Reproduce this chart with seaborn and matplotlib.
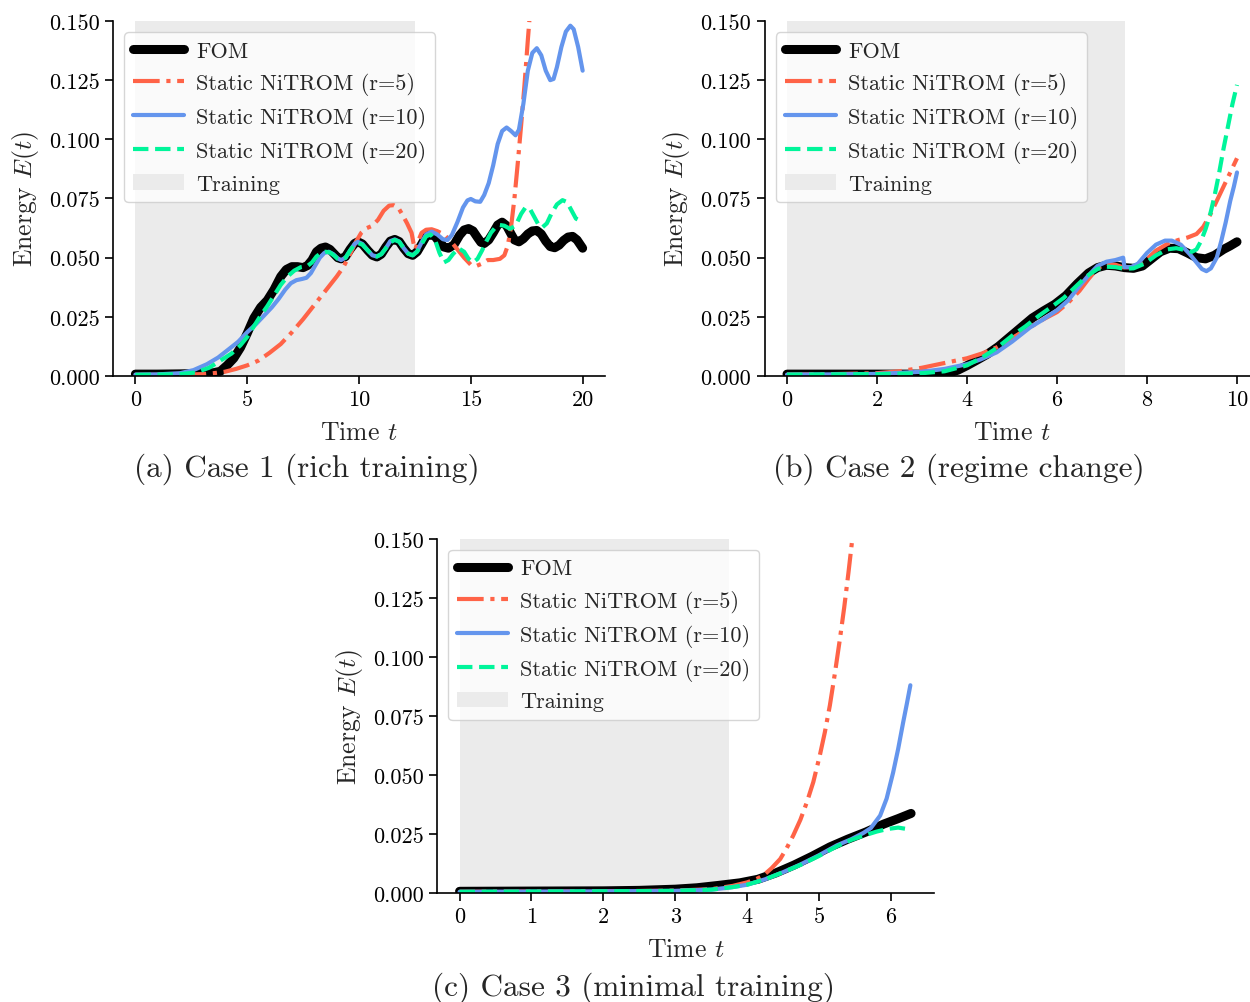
import matplotlib
matplotlib.use("Agg")
import matplotlib.pyplot as plt
import seaborn as sns

# ---------------- data ----------------
# Case 1 (rich training)
a_fom_t = [0, 1, 2, 3, 3.5, 3.8, 4.1, 4.4, 4.7, 5.0, 5.3, 5.6, 5.9, 6.2, 6.5, 6.75, 7.0, 7.25,
           7.5, 7.7, 7.9, 8.1, 8.3, 8.5, 8.7, 8.9, 9.05, 9.2, 9.4, 9.6, 9.8, 9.95, 10.15, 10.4,
           10.6, 10.8, 11.0, 11.2, 11.4, 11.6, 11.8, 12.0, 12.2, 12.4, 12.6, 12.8, 13.0, 13.2,
           13.4, 13.6, 13.8, 14.0, 14.25, 14.5, 14.7, 14.9, 15.1, 15.3, 15.45, 15.6, 15.8, 16.0,
           16.2, 16.4, 16.6, 16.8, 16.95, 17.15, 17.35, 17.55, 17.75, 17.95, 18.15, 18.35, 18.55,
           18.75, 18.95, 19.15, 19.35, 19.55, 19.75, 20.0]
a_fom_e = [0.0008, 0.0008, 0.0009, 0.0011, 0.0014, 0.002, 0.0045, 0.0075, 0.012, 0.018, 0.0245,
           0.029, 0.032, 0.0365, 0.042, 0.045, 0.0462, 0.0462, 0.0458, 0.0467, 0.049, 0.0525,
           0.054, 0.0545, 0.0535, 0.0515, 0.050, 0.0495, 0.0505, 0.0535, 0.056, 0.0567, 0.0558,
           0.053, 0.051, 0.0503, 0.0515, 0.0545, 0.057, 0.0577, 0.0568, 0.054, 0.0517, 0.051,
           0.0525, 0.0557, 0.059, 0.0598, 0.059, 0.0565, 0.0545, 0.054, 0.0555, 0.0595, 0.0617,
           0.0623, 0.0613, 0.0585, 0.0565, 0.056, 0.0575, 0.0605, 0.0638, 0.065, 0.0635, 0.060,
           0.0575, 0.0567, 0.058, 0.060, 0.0613, 0.0615, 0.060, 0.057, 0.0547, 0.0542, 0.0553,
           0.0573, 0.0587, 0.059, 0.0575, 0.054]

a_r5_t = [0, 1, 2, 3, 3.5, 4.0, 4.5, 5.0, 5.5, 6.0, 6.5, 7.0, 7.5, 8.0, 8.5, 9.0, 9.3, 9.6,
          9.85, 10.1, 10.35, 10.6, 10.85, 11.1, 11.35, 11.55, 11.75, 11.95, 12.15, 12.35, 12.47,
          12.52, 12.6, 12.8, 13.0, 13.25, 13.5, 13.8, 14.1, 14.4, 14.7, 15.0, 15.25, 15.5,
          15.75, 16.0, 16.3, 16.5, 16.65, 16.8, 16.95, 17.1, 17.25, 17.4, 17.55, 17.7]
a_r5_e = [0.0005, 0.0005, 0.0006, 0.0008, 0.0012, 0.0018, 0.003, 0.0045, 0.0065, 0.0098, 0.0135,
          0.0185, 0.024, 0.030, 0.036, 0.042, 0.046, 0.0515, 0.0565, 0.0605, 0.0625, 0.0635,
          0.066, 0.0698, 0.072, 0.0722, 0.0712, 0.068, 0.0645, 0.0605, 0.0545, 0.0535, 0.056,
          0.0605, 0.0618, 0.062, 0.0612, 0.0598, 0.057, 0.0535, 0.050, 0.047, 0.0465, 0.0475,
          0.049, 0.049, 0.0495, 0.051, 0.055, 0.063, 0.075, 0.090, 0.106, 0.123, 0.142, 0.160]

a_r10_t = [0, 1, 2, 2.6, 3.2, 3.7, 4.2, 4.6, 5.0, 5.4, 5.8, 6.1, 6.4, 6.7, 6.95, 7.2, 7.45,
           7.65, 7.85, 8.05, 8.25, 8.45, 8.65, 8.85, 9.05, 9.2, 9.4, 9.6, 9.8, 9.95, 10.15, 10.4,
           10.6, 10.8, 11.0, 11.2, 11.4, 11.6, 11.8, 12.0, 12.2, 12.4, 12.6, 12.8, 13.0, 13.25,
           13.5, 13.75, 13.95, 14.15, 14.4, 14.65, 14.85, 15.0, 15.2, 15.42, 15.6, 15.8, 16.0,
           16.2, 16.4, 16.6, 16.8, 17.0, 17.15, 17.35, 17.55, 17.75, 17.95, 18.15, 18.35, 18.55,
           18.7, 18.85, 19.05, 19.25, 19.45, 19.6, 19.8, 20.0]
a_r10_e = [0.0006, 0.0007, 0.0012, 0.0025, 0.005, 0.0078, 0.0115, 0.0145, 0.0185, 0.022, 0.026,
           0.029, 0.0325, 0.0365, 0.0392, 0.0405, 0.041, 0.0415, 0.0435, 0.0468, 0.050, 0.052,
           0.0525, 0.0515, 0.0497, 0.049, 0.050, 0.053, 0.0558, 0.0567, 0.0558, 0.053, 0.051,
           0.0505, 0.0515, 0.054, 0.057, 0.0577, 0.0568, 0.054, 0.0517, 0.051, 0.0527, 0.0565,
           0.0598, 0.061, 0.0598, 0.0578, 0.0574, 0.0595, 0.065, 0.0712, 0.0742, 0.0748, 0.0738,
           0.0736, 0.0765, 0.0815, 0.089, 0.098, 0.1035, 0.105, 0.1035, 0.1017, 0.104, 0.115,
           0.129, 0.1365, 0.1385, 0.1355, 0.129, 0.125, 0.1255, 0.1305, 0.139, 0.1455, 0.148,
           0.1465, 0.139, 0.129]

a_r20_t = [0, 1, 2, 2.7, 3.3, 3.8, 4.3, 4.7, 5.0, 5.3, 5.6, 5.9, 6.2, 6.5, 6.8, 7.1, 7.4, 7.7,
           7.9, 8.1, 8.3, 8.5, 8.7, 8.9, 9.05, 9.2, 9.4, 9.6, 9.8, 9.95, 10.15, 10.4, 10.6, 10.8,
           11.0, 11.2, 11.4, 11.6, 11.8, 12.0, 12.2, 12.4, 12.6, 12.8, 13.0, 13.2, 13.4, 13.6,
           13.8, 14.0, 14.2, 14.45, 14.7, 14.9, 15.1, 15.3, 15.5, 15.7, 15.9, 16.1, 16.3, 16.5,
           16.75, 17.0, 17.25, 17.45, 17.65, 17.85, 18.05, 18.2, 18.4, 18.6, 18.85, 19.1, 19.3,
           19.5, 19.7, 19.85, 20.0]
a_r20_e = [0.0005, 0.0006, 0.0008, 0.0015, 0.0035, 0.0065, 0.0095, 0.013, 0.0165, 0.021, 0.0255,
           0.0295, 0.034, 0.0385, 0.042, 0.0445, 0.046, 0.0465, 0.048, 0.0505, 0.052, 0.0525,
           0.0522, 0.0508, 0.0495, 0.049, 0.050, 0.053, 0.0555, 0.0562, 0.0555, 0.053, 0.051,
           0.0505, 0.0515, 0.054, 0.0565, 0.0575, 0.0567, 0.054, 0.0517, 0.051, 0.0525, 0.0557,
           0.059, 0.0598, 0.0575, 0.052, 0.048, 0.049, 0.0515, 0.054, 0.0525, 0.0495, 0.048,
           0.0495, 0.053, 0.057, 0.0605, 0.0628, 0.0638, 0.0635, 0.0622, 0.0635, 0.0685, 0.0713,
           0.0705, 0.067, 0.0635, 0.0628, 0.0645, 0.0685, 0.0725, 0.0743, 0.0735, 0.070, 0.0665,
           0.0658, 0.067]

# Case 2 (regime change)
b_fom_t = [0, 1, 2, 3, 3.4, 3.6, 3.8, 4.0, 4.2, 4.45, 4.7, 4.95, 5.2, 5.45, 5.7, 5.95, 6.2,
           6.45, 6.7, 6.9, 7.1, 7.3, 7.5, 7.7, 7.9, 8.1, 8.3, 8.5, 8.7, 8.9, 9.1, 9.3, 9.5, 9.7,
           9.85, 10.0]
b_fom_e = [0.0008, 0.0008, 0.0008, 0.0008, 0.0008, 0.0012, 0.0025, 0.0044, 0.0065, 0.0092,
           0.0125, 0.0165, 0.0205, 0.0245, 0.0275, 0.0303, 0.034, 0.039, 0.0435, 0.0458, 0.0468,
           0.0465, 0.0458, 0.0455, 0.0465, 0.0495, 0.0525, 0.054, 0.0538, 0.052, 0.050, 0.0495,
           0.051, 0.0535, 0.055, 0.0567]

b_r5_t = [0, 1, 2, 2.5, 3.0, 3.5, 4.0, 4.33, 4.66, 5.0, 5.4, 5.7, 6.0, 6.25, 6.5, 6.7, 6.9,
          7.1, 7.3, 7.47, 7.7, 7.95, 8.2, 8.45, 8.7, 8.9, 9.1, 9.25, 9.4, 9.55, 9.7, 9.85, 10.0]
b_r5_e = [0.0006, 0.0008, 0.0012, 0.002, 0.0035, 0.0055, 0.0075, 0.0095, 0.0121, 0.016, 0.0206,
          0.024, 0.027, 0.031, 0.036, 0.041, 0.0455, 0.0475, 0.047, 0.0459, 0.046, 0.0485,
          0.053, 0.0558, 0.0575, 0.0585, 0.060, 0.063, 0.068, 0.074, 0.080, 0.086, 0.092]

b_r10_t = [0, 1, 2, 3, 3.5, 4.0, 4.3, 4.66, 5.0, 5.4, 5.7, 6.0, 6.25, 6.5, 6.7, 6.9, 7.1,
           7.3, 7.47, 7.5, 7.65, 7.8, 8.0, 8.2, 8.4, 8.55, 8.75, 8.95, 9.1, 9.22, 9.32, 9.42,
           9.55, 9.65, 9.75, 9.85, 9.93, 10.0]
b_r10_e = [0.0006, 0.0007, 0.0009, 0.0018, 0.003, 0.005, 0.007, 0.010, 0.0145, 0.0205, 0.024,
           0.0278, 0.032, 0.038, 0.0425, 0.0465, 0.0483, 0.049, 0.050, 0.046, 0.046, 0.0475,
           0.052, 0.0555, 0.0572, 0.0572, 0.0555, 0.0515, 0.048, 0.0452, 0.0443, 0.0455, 0.050,
           0.057, 0.065, 0.074, 0.080, 0.086]

b_r20_t = [0, 1, 2, 3, 3.5, 4.0, 4.33, 4.66, 5.0, 5.3, 5.6, 5.9, 6.15, 6.4, 6.65, 6.9, 7.1,
           7.3, 7.5, 7.7, 7.95, 8.2, 8.45, 8.65, 8.85, 9.0, 9.1, 9.2, 9.3, 9.4, 9.5, 9.6, 9.7,
           9.8, 9.9, 10.0]
b_r20_e = [0.0006, 0.0007, 0.0008, 0.0012, 0.002, 0.0045, 0.0078, 0.0118, 0.017, 0.021, 0.0255,
           0.0295, 0.033, 0.0375, 0.042, 0.0452, 0.0462, 0.046, 0.0453, 0.0455, 0.0475, 0.051,
           0.0535, 0.054, 0.0532, 0.0525, 0.0535, 0.057, 0.062, 0.068, 0.076, 0.0855, 0.096,
           0.1055, 0.115, 0.123]

# Case 3 (minimal training)
c_fom_t = [0, 1, 2, 2.5, 3.0, 3.3, 3.6, 3.9, 4.15, 4.4, 4.65, 4.9, 5.15, 5.4, 5.65, 5.9, 6.1,
           6.28]
c_fom_e = [0.0007, 0.0008, 0.0009, 0.0011, 0.0016, 0.0022, 0.0032, 0.0043, 0.0058, 0.0085,
           0.0118, 0.0155, 0.0195, 0.0228, 0.0258, 0.0292, 0.0315, 0.0337]

c_r5_t = [0, 1, 2, 3, 3.5, 3.8, 4.0, 4.12, 4.22, 4.34, 4.46, 4.55, 4.64, 4.74, 4.83, 4.92,
          5.01, 5.08, 5.15, 5.22, 5.29, 5.35, 5.41, 5.47, 5.5]
c_r5_e = [0.0005, 0.0006, 0.0007, 0.001, 0.0016, 0.003, 0.0045, 0.0058, 0.0073, 0.0105, 0.0144,
          0.019, 0.0243, 0.031, 0.0384, 0.047, 0.0582, 0.068, 0.0794, 0.093, 0.1076, 0.121,
          0.136, 0.152, 0.160]

c_r10_t = [0, 1, 2, 3, 3.5, 3.8, 4.0, 4.25, 4.5, 4.75, 5.0, 5.25, 5.45, 5.62, 5.72, 5.85,
           5.94, 6.03, 6.1, 6.17, 6.22, 6.27]
c_r10_e = [0.0005, 0.0006, 0.0007, 0.0009, 0.0014, 0.0025, 0.0035, 0.0058, 0.0088, 0.0122,
           0.016, 0.0202, 0.0228, 0.0255, 0.0275, 0.0328, 0.040, 0.051, 0.061, 0.0723, 0.080,
           0.088]

c_r20_t = [0, 1, 2, 3, 3.5, 3.8, 4.0, 4.25, 4.5, 4.75, 5.0, 5.25, 5.45, 5.62, 5.8, 5.95, 6.1,
           6.2, 6.27]
c_r20_e = [0.0005, 0.0006, 0.0007, 0.0009, 0.0014, 0.0025, 0.0035, 0.0058, 0.0088, 0.012,
           0.0157, 0.0198, 0.0225, 0.0243, 0.026, 0.0271, 0.0277, 0.0272, 0.0264]

training_end = [12.5, 7.5, 3.75]
series_labels = ["FOM", "Static NiTROM (r=5)", "Static NiTROM (r=10)", "Static NiTROM (r=20)"]
span_label = "Training"
captions = ["(a) Case 1 (rich training)", "(b) Case 2 (regime change)",
            "(c) Case 3 (minimal training)"]
xticks_list = [[0, 5, 10, 15, 20], [0, 2, 4, 6, 8, 10], [0, 1, 2, 3, 4, 5, 6]]
yticks = [0.0, 0.025, 0.05, 0.075, 0.1, 0.125, 0.15]

# ---------------- style ----------------
sns.set_theme(style="ticks")
plt.rcParams["font.family"] = ["cmr10", "DejaVu Serif"]
plt.rcParams["mathtext.fontset"] = "cm"
plt.rcParams["axes.unicode_minus"] = False
plt.rcParams["axes.formatter.use_mathtext"] = True

colors = ["black", "#FF6347", "#6495ED", "#00F59A"]
styles = ["-", "-.", "-", "--"]
widths = [6.5, 3.0, 3.0, 3.0]

fig = plt.figure(figsize=(12.5, 10.03), dpi=100)
positions = [
    [0.0904, 0.6241, 0.3936, 0.3540],
    [0.6116, 0.6241, 0.3960, 0.3540],
    [0.3496, 0.1087, 0.3975, 0.3530],
]
xlims = [(-1.0, 21.0), (-0.5, 10.5), (-0.314, 6.597)]

data = [
    [(a_fom_t, a_fom_e), (a_r5_t, a_r5_e), (a_r10_t, a_r10_e), (a_r20_t, a_r20_e)],
    [(b_fom_t, b_fom_e), (b_r5_t, b_r5_e), (b_r10_t, b_r10_e), (b_r20_t, b_r20_e)],
    [(c_fom_t, c_fom_e), (c_r5_t, c_r5_e), (c_r10_t, c_r10_e), (c_r20_t, c_r20_e)],
]

for i in range(3):
    ax = fig.add_axes(positions[i])
    span = ax.axvspan(0, training_end[i], color="#ebebeb", lw=0, label=span_label, zorder=0)
    handles = []
    for k in range(4):
        tx, ey = data[i][k]
        sns.lineplot(x=tx, y=ey, ax=ax, color=colors[k], linestyle=styles[k], lw=widths[k],
                     label=series_labels[k], sort=False, estimator=None, legend=False)
        line = ax.lines[-1]
        line.set_solid_joinstyle("round")
        line.set_dash_joinstyle("round")
        handles.append(line)
    handles.append(span)
    ax.set_xlim(*xlims[i])
    ax.set_ylim(0, 0.15)
    ax.set_xticks(xticks_list[i])
    ax.set_yticks(yticks)
    ax.set_yticklabels([f"{v:.3f}" for v in yticks])
    ax.set_xticklabels([str(v) for v in xticks_list[i]])
    ax.tick_params(labelsize=16, length=6, width=1.2, colors="black")
    for s in ["left", "bottom"]:
        ax.spines[s].set_linewidth(1.2)
        ax.spines[s].set_color("black")
    sns.despine(ax=ax)
    ax.set_xlabel("Time $t$", fontsize=18.5, labelpad=8)
    ax.set_ylabel("Energy $E(t)$", fontsize=18.5, labelpad=6)
    ax.legend(handles, series_labels + [span_label], loc="upper left", fontsize=16,
              frameon=True, framealpha=0.8, edgecolor="0.8", fancybox=True,
              handlelength=2.3, handletextpad=0.55, borderaxespad=0.5)
    ax.set_facecolor("white")

fig.text(0.2456, 0.5324, captions[0], fontsize=22.5, ha="center", va="center")
fig.text(0.7672, 0.5324, captions[1], fontsize=22.5, ha="center", va="center")
fig.text(0.5064, 0.0150, captions[2], fontsize=22.5, ha="center", va="center")

fig.savefig("out.png", dpi=100, facecolor="white")
